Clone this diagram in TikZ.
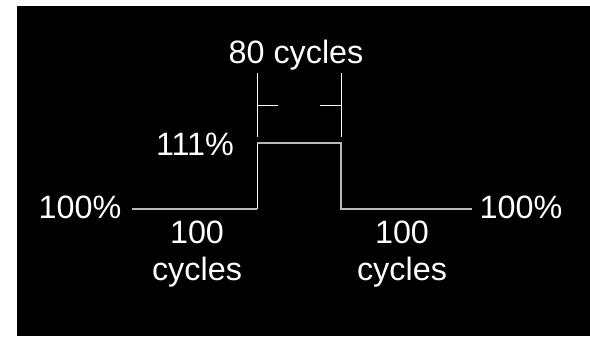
\documentclass[tikz,border=0pt]{standalone}
\usepackage{fontspec}
\setmainfont{Liberation Sans}
\tikzset{
  lbl/.style={text=white, inner sep=0pt, anchor=base, align=center,
    font=\fontsize{23}{26.3}\selectfont},
  dimline/.style={white, line width=0.7pt},
  pulse/.style={gray!55!white, line width=1.4pt}
}
\begin{document}
\begin{tikzpicture}[x=0.025cm, y=-0.025cm]
 %% page and black panel
 \fill[white] (0,0) rectangle (590,336);
 \fill[black] (17,6) rectangle (590,336);

 \coordinate (lowa) at (132,209);
 \coordinate (risebot) at (257,209);
 \coordinate (risetop) at (257,143);
 \coordinate (falltop) at (341,143);
 \coordinate (fallbot) at (341,209);
 \coordinate (lowb) at (472,209);

 %% the pulse
 \draw [pulse] (lowa) -- (risebot);
 \draw [dimline] (risebot) -- (risetop);
 \draw [pulse] (risetop) -- (falltop) -- (fallbot) -- (lowb);

 %% 80 cycles marker
 \coordinate (dimla) at (257,73);
 \coordinate (dimlb) at (257,137);
 \coordinate (dimra) at (341,73);
 \coordinate (dimrb) at (341,137);
 \coordinate (tickl) at (257,105);
 \coordinate (ticklend) at (278,105);
 \coordinate (tickr) at (341,105);
 \coordinate (tickrend) at (320,105);
 \draw [dimline] (dimla) -- (dimlb);
 \draw [dimline] (dimra) -- (dimrb);
 \draw [dimline] (tickl) -- (ticklend);
 \draw [dimline] (tickr) -- (tickrend);

 \node [lbl] (width) at (296,63) {80 cycles};
 \node [lbl] (peak) at (195,155) {111\%};
 \node [lbl] (basel) at (80,218) {100\%};
 \node [lbl] (baser) at (521,218) {100\%};
 %% two-line labels sit on the baseline of "cycles"
 \node [lbl] (durl) at (197,280) {100\\cycles};
 \node [lbl] (durr) at (402,280) {100\\cycles};
\end{tikzpicture}
\end{document}
